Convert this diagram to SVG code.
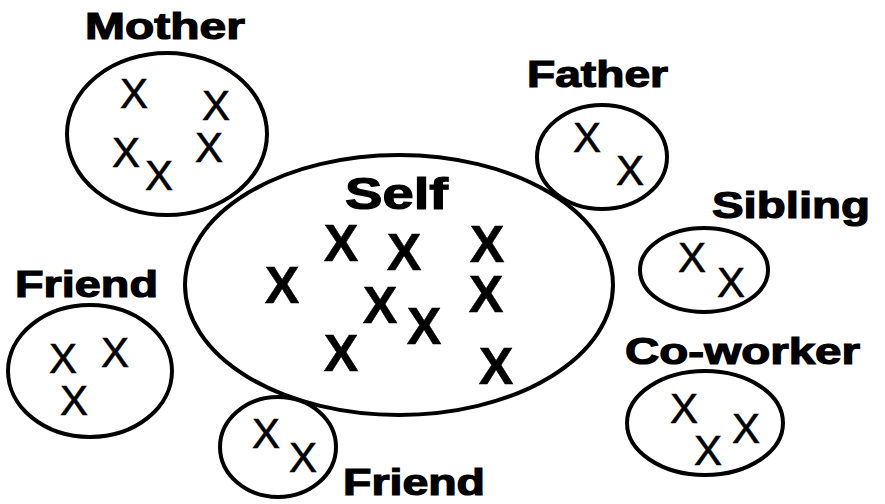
<svg xmlns="http://www.w3.org/2000/svg" width="885" height="504" viewBox="0 0 885 504">
<style>
.ring{fill:none;stroke:#000;stroke-width:4}
.lbl{font-family:"Liberation Sans",Arial,sans-serif;font-weight:bold;font-size:36px;fill:#000;stroke:#000;stroke-width:1.2}
.sx{font-family:"Liberation Sans",Arial,sans-serif;font-size:42px;fill:#000;stroke:#000;stroke-width:0.6;text-anchor:middle}
.bx{font-family:"Liberation Sans",Arial,sans-serif;font-weight:bold;font-size:52px;fill:#000;stroke:#000;stroke-width:0.5;text-anchor:middle}
</style>
<rect width="885" height="504" fill="#fff"/>
<g id="self">
<ellipse class="ring" cx="399" cy="285" rx="214" ry="130"/>
<text class="lbl" x="345" y="209" style="font-size:44px" textLength="103" lengthAdjust="spacingAndGlyphs">Self</text>
<text class="bx" x="282" y="303">X</text>
<text class="bx" x="341" y="261">X</text>
<text class="bx" x="404" y="270">X</text>
<text class="bx" x="487" y="262">X</text>
<text class="bx" x="380" y="323">X</text>
<text class="bx" x="486" y="312">X</text>
<text class="bx" x="424" y="344">X</text>
<text class="bx" x="341" y="371">X</text>
<text class="bx" x="496" y="384">X</text>
</g>
<g id="mother">
<ellipse class="ring" cx="167" cy="134" rx="100" ry="81"/>
<text class="lbl" x="85" y="39" textLength="160" lengthAdjust="spacingAndGlyphs">Mother</text>
<text class="sx" x="134" y="108">X</text>
<text class="sx" x="216" y="120">X</text>
<text class="sx" x="126" y="167">X</text>
<text class="sx" x="209" y="162">X</text>
<text class="sx" x="159" y="190">X</text>
</g>
<g id="father">
<ellipse class="ring" cx="602" cy="157" rx="65" ry="52"/>
<text class="lbl" x="527" y="87" textLength="141" lengthAdjust="spacingAndGlyphs">Father</text>
<text class="sx" x="587" y="152">X</text>
<text class="sx" x="630" y="185">X</text>
</g>
<g id="sibling">
<ellipse class="ring" cx="704" cy="270" rx="64" ry="42"/>
<text class="lbl" x="712" y="218" textLength="158" lengthAdjust="spacingAndGlyphs">Sibling</text>
<text class="sx" x="692" y="272">X</text>
<text class="sx" x="731" y="297">X</text>
</g>
<g id="coworker">
<ellipse class="ring" cx="705" cy="423" rx="78" ry="52"/>
<text class="lbl" x="625" y="364" textLength="235" lengthAdjust="spacingAndGlyphs">Co-worker</text>
<text class="sx" x="684" y="423">X</text>
<text class="sx" x="746" y="443">X</text>
<text class="sx" x="708" y="465">X</text>
</g>
<g id="friend-left">
<ellipse class="ring" cx="90" cy="371" rx="82" ry="66"/>
<text class="lbl" x="15" y="297" textLength="143" lengthAdjust="spacingAndGlyphs">Friend</text>
<text class="sx" x="63" y="373">X</text>
<text class="sx" x="115" y="367">X</text>
<text class="sx" x="74" y="415">X</text>
</g>
<g id="friend-bottom">
<ellipse class="ring" cx="278" cy="447" rx="58" ry="50"/>
<text class="lbl" x="343" y="495" textLength="142" lengthAdjust="spacingAndGlyphs">Friend</text>
<text class="sx" x="266" y="448">X</text>
<text class="sx" x="303" y="472">X</text>
</g>
<g id="connectors"></g>
</svg>
